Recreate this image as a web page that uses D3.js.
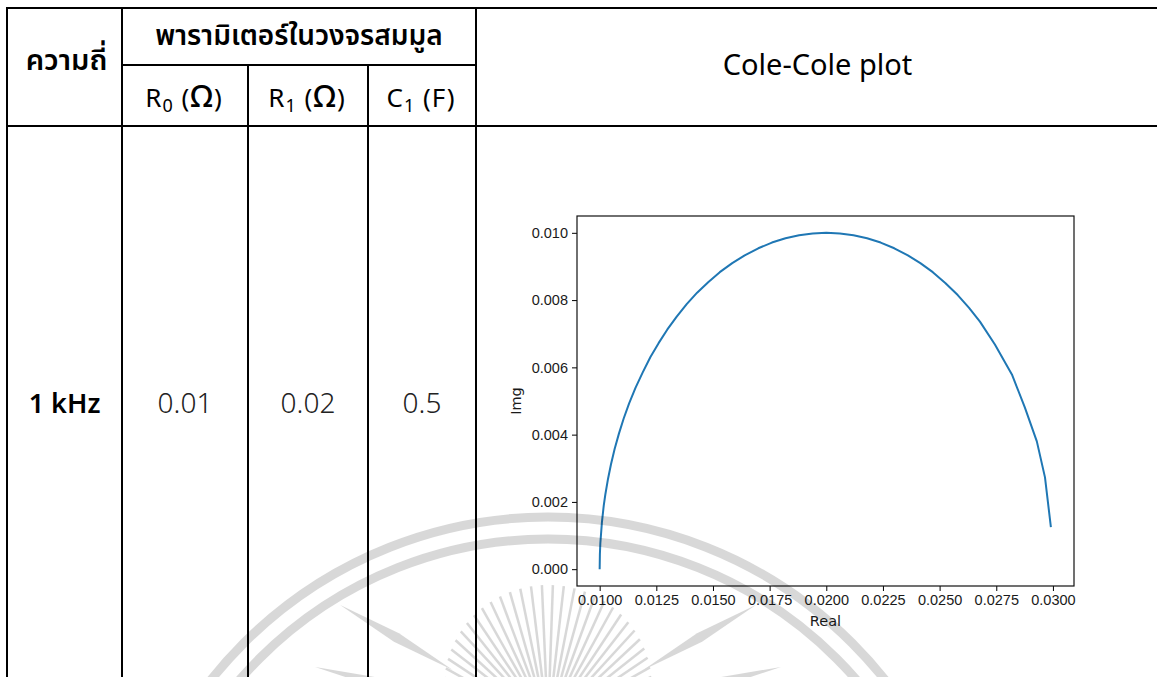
<!DOCTYPE html>
<html>
<head>
<meta charset="utf-8">
<script src="https://cdn.jsdelivr.net/npm/d3@7"></script>
<style>
  body { margin: 0; background: #fff; }
</style>
</head>
<body>
<div id="page"></div>
<script>
// table content
let headFreq = "ความถี่"
let headParams = "พารามิเตอร์ในวงจรสมมูล"
let headChart = "Cole-Cole plot"
let paramNames = [["R", "0", "Ω"], ["R", "1", "Ω"], ["C", "1", ""]]
let rowFreq = "1 kHz"
let rowValues = ["0.01", "0.02", "0.5"]

// Cole-Cole points
let realVals = [0.01000, 0.01001, 0.01003, 0.01010, 0.01018, 0.01025, 0.01037, 0.01050,
                0.01066, 0.01085, 0.01106, 0.01130, 0.01158, 0.01190, 0.01224, 0.01260,
                0.01298, 0.01340, 0.01384, 0.01430, 0.01480, 0.01530, 0.01585, 0.01640,
                0.01700, 0.01760, 0.01820, 0.01880, 0.01940, 0.02000, 0.02060, 0.02120,
                0.02180, 0.02240, 0.02300, 0.02360, 0.02415, 0.02470, 0.02525, 0.02580,
                0.02630, 0.02678, 0.02744, 0.02819, 0.02876, 0.02929, 0.02965, 0.02991]
let imgVals  = [0.00000, 0.00045, 0.00077, 0.00140, 0.00189, 0.00222, 0.00269, 0.00312,
                0.00357, 0.00403, 0.00448, 0.00493, 0.00539, 0.00585, 0.00631, 0.00672,
                0.00712, 0.00751, 0.00788, 0.00822, 0.00854, 0.00883, 0.00910, 0.00933,
                0.00954, 0.00971, 0.00984, 0.00993, 0.00998, 0.01000, 0.00998, 0.00993,
                0.00984, 0.00971, 0.00954, 0.00933, 0.00910, 0.00883, 0.00851, 0.00815,
                0.00777, 0.00736, 0.00668, 0.00579, 0.00481, 0.00380, 0.00273, 0.00125]
let xTicks = [0.0100, 0.0125, 0.0150, 0.0175, 0.0200, 0.0225, 0.0250, 0.0275, 0.0300]
let yTicks = [0.000, 0.002, 0.004, 0.006, 0.008, 0.010]

let W = 1157, H = 677
let thai = "'Noto Sans Thai', 'Noto Sans', sans-serif"

var svg = d3.select("#page").append("svg")
  .attr("width", W)
  .attr("height", H)

// ---------- table grid ----------
let colX = [7, 122, 248, 368, 476]
let rowY = [8, 65, 126]
let grid = svg.append("g").attr("stroke", "#000").attr("stroke-width", 2)
grid.append("line").attr("x1", colX[0]).attr("x2", W).attr("y1", rowY[0]).attr("y2", rowY[0])
grid.append("line").attr("x1", colX[1]).attr("x2", colX[4]).attr("y1", rowY[1]).attr("y2", rowY[1])
grid.append("line").attr("x1", colX[0]).attr("x2", W).attr("y1", rowY[2]).attr("y2", rowY[2])
grid.append("line").attr("x1", colX[0]).attr("x2", colX[0]).attr("y1", rowY[0] - 1).attr("y2", H)
grid.append("line").attr("x1", colX[1]).attr("x2", colX[1]).attr("y1", rowY[0] - 1).attr("y2", H)
grid.append("line").attr("x1", colX[2]).attr("x2", colX[2]).attr("y1", rowY[1]).attr("y2", H)
grid.append("line").attr("x1", colX[3]).attr("x2", colX[3]).attr("y1", rowY[1]).attr("y2", H)
grid.append("line").attr("x1", colX[4]).attr("x2", colX[4]).attr("y1", rowY[0] - 1).attr("y2", H)

// header texts
svg.append("text")
  .attr("x", (colX[0] + colX[1]) / 2 + 2).attr("y", 70)
  .attr("text-anchor", "middle")
  .style("font-family", thai).style("font-size", "29px").style("font-weight", "600")
  .text(headFreq)

svg.append("text")
  .attr("x", (colX[1] + colX[4]) / 2).attr("y", 45)
  .attr("text-anchor", "middle")
  .style("font-family", thai).style("font-size", "28px").style("font-weight", "600")
  .text(headParams)

svg.append("text")
  .attr("x", (colX[4] + W) / 2 + 1).attr("y", 75)
  .attr("text-anchor", "middle")
  .style("font-family", thai).style("font-size", "29px")
  .text(headChart)

paramNames.forEach(function(p, i) {
  let t = svg.append("text")
    .attr("x", (colX[i + 1] + colX[i + 2]) / 2 - 1).attr("y", 107)
    .attr("text-anchor", "middle")
    .style("font-family", thai).style("font-size", "26px").style("letter-spacing", "1px")
  t.append("tspan").text(p[0])
  t.append("tspan").attr("dy", 5).style("font-size", "18px").text(p[1])
  if (p[2]) {
    t.append("tspan").attr("dy", -5).text(" (")
    t.append("tspan").style("font-size", "31px").style("font-weight", "500").text(p[2])
    t.append("tspan").text(")")
  } else {
    t.append("tspan").attr("dy", -5).text(" (F)")
  }
})

// data row
svg.append("text")
  .attr("x", (colX[0] + colX[1]) / 2).attr("y", 413)
  .attr("text-anchor", "middle")
  .style("font-family", thai).style("font-size", "27px").style("font-weight", "600")
  .text(rowFreq)

rowValues.forEach(function(v, i) {
  svg.append("text")
    .attr("x", (colX[i + 1] + colX[i + 2]) / 2).attr("y", 413)
    .attr("text-anchor", "middle")
    .style("font-family", thai).style("font-size", "28px").style("font-weight", "300")
    .attr("fill", "#222")
    .text(v)
})

// ---------- Cole-Cole chart ----------
let plot = {left: 577, top: 216, right: 1074, bottom: 586}
let data = realVals.map((r, i) => ({re: r, im: imgVals[i]}))

var x = d3.scaleLinear()
  .domain([0.0090, 0.03093])
  .range([plot.left, plot.right])

var y = d3.scaleLinear()
  .domain([-0.0005, 0.0105])
  .range([plot.bottom, plot.top])

let chart = svg.append("g")
  .style("font-family", "'DejaVu Sans', sans-serif")

chart.append("g")
  .attr("transform", "translate(0," + plot.bottom + ")")
  .call(d3.axisBottom(x).tickValues(xTicks).tickFormat(d3.format(".4f")).tickSize(5).tickPadding(4))
  .call(g => g.select(".domain").remove())
  .call(g => g.selectAll("text").style("font-size", "14.5px").attr("fill", "#1a1a1a"))

chart.append("g")
  .attr("transform", "translate(" + plot.left + ",0)")
  .call(d3.axisLeft(y).tickValues(yTicks).tickFormat(d3.format(".3f")).tickSize(5).tickPadding(4))
  .call(g => g.select(".domain").remove())
  .call(g => g.selectAll("text").style("font-size", "14.5px").attr("fill", "#1a1a1a"))

chart.append("rect")
  .attr("x", plot.left).attr("y", plot.top)
  .attr("width", plot.right - plot.left).attr("height", plot.bottom - plot.top)
  .attr("fill", "none").attr("stroke", "#111").attr("stroke-width", 1.2)

chart.append("path")
  .attr("d", d3.line().x(d => x(d.re)).y(d => y(d.im))(data))
  .attr("stroke", "#1f77b4")
  .attr("stroke-width", 2)
  .attr("fill", "none")
  .attr("stroke-linejoin", "round")

chart.append("text")
  .attr("x", (plot.left + plot.right) / 2).attr("y", 626)
  .attr("text-anchor", "middle")
  .style("font-size", "14.5px").attr("fill", "#1a1a1a")
  .text("Real")

chart.append("text")
  .attr("transform", "translate(521," + ((plot.top + plot.bottom) / 2) + ") rotate(-90)")
  .attr("text-anchor", "middle")
  .style("font-size", "14.5px").attr("fill", "#1a1a1a")
  .text("Img")

// ---------- faint watermark ----------
let wm = svg.append("g").attr("opacity", 0.15)
let wc = {x: 548, y: 947}
wm.append("circle").attr("cx", wc.x).attr("cy", wc.y).attr("r", 430)
  .attr("fill", "none").attr("stroke", "#000").attr("stroke-width", 9)
wm.append("circle").attr("cx", wc.x).attr("cy", wc.y).attr("r", 408)
  .attr("fill", "none").attr("stroke", "#000").attr("stroke-width", 9)

let sun = {x: 548, y: 725}
for (let a = -160; a <= -20; a += 4.5) {
  let rad = a * Math.PI / 180
  let rOut = 95 + 45 * Math.sin(-rad)
  wm.append("line")
    .attr("x1", sun.x + 45 * Math.cos(rad)).attr("y1", sun.y + 45 * Math.sin(rad))
    .attr("x2", sun.x + rOut * Math.cos(rad)).attr("y2", sun.y + rOut * Math.sin(rad))
    .attr("stroke", "#000").attr("stroke-width", 2.5)
}
;[-166, -150, -30, -14].forEach(function(a) {
  let rad = a * Math.PI / 180, n = rad + Math.PI / 2
  let p0 = [sun.x + 110 * Math.cos(rad), sun.y + 110 * Math.sin(rad)]
  let p1 = [sun.x + 240 * Math.cos(rad), sun.y + 240 * Math.sin(rad)]
  let pm = [sun.x + 175 * Math.cos(rad), sun.y + 175 * Math.sin(rad)]
  wm.append("path")
    .attr("d", "M" + p0 + "L" + [pm[0] + 5 * Math.cos(n), pm[1] + 5 * Math.sin(n)] + "L" + p1 +
               "L" + [pm[0] - 5 * Math.cos(n), pm[1] - 5 * Math.sin(n)] + "Z")
    .attr("fill", "#000")
})
</script>
</body>
</html>
